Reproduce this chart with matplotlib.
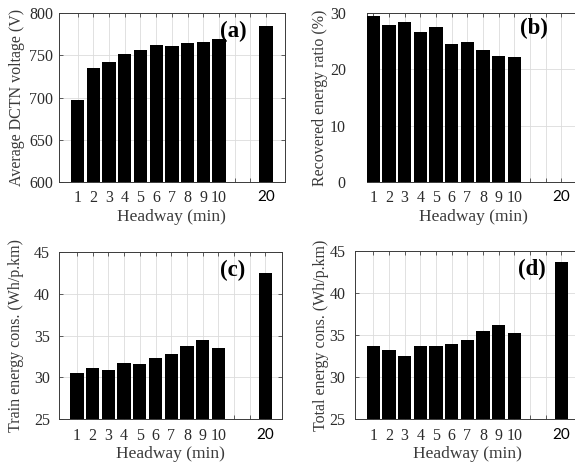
import numpy as np
import matplotlib
matplotlib.use("Agg")
import matplotlib.pyplot as plt

headway = ["1", "2", "3", "4", "5", "6", "7", "8", "9", "10", "20"]
dctn_voltage = [697, 735, 742, 752, 756, 762, 761, 765, 766, 769, 785]
recovered_ratio = [29.6, 28.0, 28.5, 26.6, 27.6, 24.5, 24.9, 23.5, 22.4, 22.2, np.nan]
train_energy = [30.5, 31.1, 30.85, 31.75, 31.6, 32.3, 32.75, 33.8, 34.45, 33.55, 42.45]
total_energy = [33.65, 33.2, 32.45, 33.65, 33.65, 33.95, 34.35, 35.5, 36.2, 35.2, 43.7]

W, H = 575, 466
SERIF = "Liberation Serif"
TXT = "#2b2b2b"

# bar positions: 1..10 then a gap before the "20" bar
pos = list(range(1, 11)) + [13]


def px_axes(fig, x0, x1, y0, y1):
    return fig.add_axes([x0 / W, 1 - y1 / H, (x1 - x0) / W, (y1 - y0) / H])


fig = plt.figure(figsize=(W / 100, H / 100), dpi=100)

panels = [
    # values, ylabel, yticks, ylim, xlim, pixel box, tag, tag pos, ytick pad, ylabel pad
    (dctn_voltage, "Average DCTN voltage (V)", [600, 650, 700, 750, 800], (600, 800),
     (-0.22, 14.2), (58.5, 285, 13.3, 181.7), "(a)", (0.77, 0.89), 4, 3),
    (recovered_ratio, "Recovered energy ratio (%)", [0, 10, 20, 30], (0, 30),
     (0.58, 14.2), (366.7, 580, 13.3, 181.7), "(b)", (0.785, 0.91), 15, 1.5),
    (train_energy, "Train energy cons. (Wh/p.km)", [25, 30, 35, 40, 45], (25, 45),
     (-0.15, 14.06), (59, 282, 251.7, 419.3), "(c)", (0.78, 0.886), 6.5, 7),
    (total_energy, "Total energy cons. (Wh/p.km)", [25, 30, 35, 40, 45], (25, 45),
     (-0.17, 14.2), (355, 580, 250.7, 419.3), "(d)", (0.785, 0.89), 7, 0),
]

for vals, ylab, yt, ylim, xlim, box, tag, tagpos, ypad, ylpad in panels:
    ax = px_axes(fig, *box)
    ax.bar(pos, vals, width=0.85, color="black", zorder=3)
    ax.set_xlim(*xlim)
    ax.set_ylim(*ylim)
    ax.set_yticks(yt)
    ax.set_xticks(list(range(1, 14)), minor=True)
    ax.set_xticks(pos)
    ax.set_xticklabels(headway)
    ax.grid(True, which="both", color="#dcdcdc", linewidth=0.6, zorder=0)
    ax.tick_params(which="both", direction="in", top=True, right=True, length=3,
                   width=0.6, color="#444444", labelsize=11.5, labelcolor=TXT)
    ax.tick_params(axis="x", which="major", pad=6)
    ax.tick_params(axis="y", pad=ypad)
    for lab in ax.get_xticklabels() + ax.get_yticklabels():
        lab.set_fontfamily(SERIF)
    last = ax.get_xticklabels()[-1]
    last.set_fontfamily("Lato")
    last.set_fontsize(11)
    last.set_color("black")
    for s in ax.spines.values():
        s.set_color("#3a3a3a")
        s.set_linewidth(0.7)
    ax.set_ylabel(ylab, fontfamily=SERIF, fontsize=11.5, color="#3a3a3a", labelpad=ylpad)
    ax.set_xlabel("Headway (min)", fontfamily=SERIF, fontsize=12.5, color="#3a3a3a", labelpad=2)
    ax.text(tagpos[0], tagpos[1], tag, transform=ax.transAxes, ha="center", va="center",
            fontfamily=SERIF, fontweight="bold", fontsize=16.5, color="black", zorder=5)

fig.savefig("out.png", dpi=100)
